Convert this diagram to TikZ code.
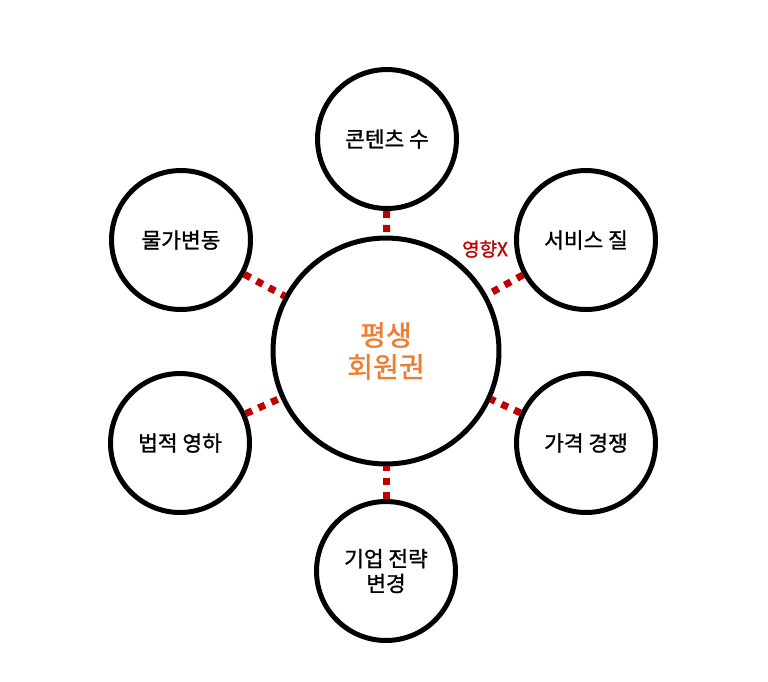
\documentclass[tikz,border=0pt]{standalone}
\usepackage{fontspec}
\setmainfont[FakeBold=1.2]{Noto Sans CJK KR}
\definecolor{accent}{HTML}{ED7D31}
\definecolor{effect}{HTML}{C00000}
\newcommand{\labelfont}{\fontsize{12.2}{14.2}\selectfont}
\newcommand{\hubfont}{\fontsize{16}{18.1}\selectfont}
\newcommand{\notefont}{\fontsize{10.8}{12}\selectfont}

\begin{document}
\begin{tikzpicture}[x=0.02cm,y=-0.02cm,font=\labelfont,
  factor/.style={circle,draw,line width=0.1cm,minimum size=2.78cm,inner sep=0pt,align=center},
  hub/.style={factor,minimum size=4.52cm,font=\hubfont,text=accent},
  link/.style={effect,line width=0.14cm,dash pattern=on 0.14cm off 0.14cm}]
\useasboundingbox (0,0) rectangle (768,681);

\node[hub] (member) at (386,351) {평생\\회원권};
\node[factor] (content) at (387,139) {콘텐츠 수};
\node[factor] (service) at (586,240) {서비스 질};
\node[factor] (price) at (586,443) {가격 경쟁};
\node[factor] (strategy) at (386,571) {기업 전략\\변경};
\node[factor] (legal) at (180,443) {법적 영하};
\node[factor] (inflation) at (181,240) {물가변동};

\draw[link] (content) -- (member);
\draw[link] (service) -- (member);
\draw[link] (price) -- (member);
\draw[link] (strategy) -- (member);
\draw[link] (legal) -- (member);
\draw[link] (inflation) -- (member);

\node[font=\notefont,text=effect] (nonote) at (485,249) {영향X};
\end{tikzpicture}
\end{document}
